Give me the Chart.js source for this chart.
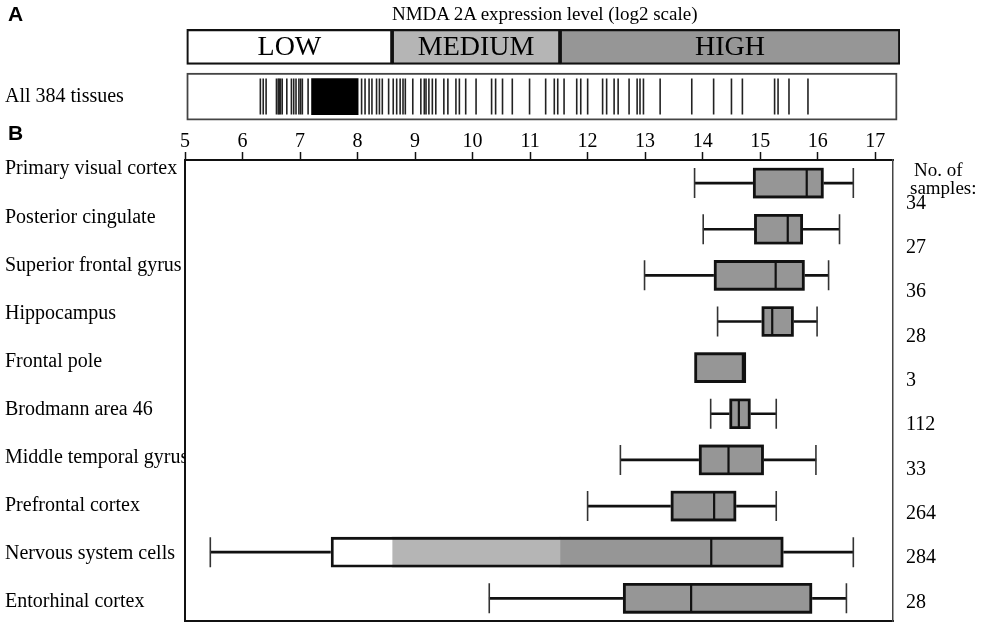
<!DOCTYPE html>
<html>
<head>
<meta charset="utf-8">
<title>NMDA 2A expression</title>
<script src="https://cdn.jsdelivr.net/npm/chart.js@4.4.0/dist/chart.umd.min.js"></script>
<style>
  html, body { margin: 0; padding: 0; background: #fff; overflow: hidden; }
  #wrap { position: relative; width: 981px; height: 636px; overflow: hidden; font-family: "Liberation Serif", "Times New Roman", serif; color: #000; }
  #chartA { position: absolute; left: 0; top: 0; }
  #chartB { position: absolute; left: 0; top: 125px; }
  .txt { position: absolute; white-space: nowrap; line-height: 1; }
  .panel { font-family: "Liberation Sans", Arial, sans-serif; font-weight: bold; font-size: 21px; }
</style>
</head>
<body>
<div id="wrap">
  <!-- Chart.js keeps ~19px under the plot area, so both canvases run a little taller -->
  <canvas id="chartA" width="981" height="141"></canvas>
  <canvas id="chartB" width="981" height="513"></canvas>
  <div class="txt panel" style="left:8px; top:3px;">A</div>
  <div class="txt panel" style="left:8px; top:122px;">B</div>
  <div class="txt" style="left:392px; top:4px; font-size:19px;">NMDA 2A expression level (log2 scale)</div>
  <div class="txt" style="left:914px; top:160px; font-size:19px;">No. of</div>
  <div class="txt" style="left:910px; top:178px; font-size:19px;">samples:</div>
</div>
<script>
// panel B: box plots per tissue
const tissues = [
  'Primary visual cortex', 'Posterior cingulate', 'Superior frontal gyrus', 'Hippocampus',
  'Frontal pole', 'Brodmann area 46', 'Middle temporal gyrus', 'Prefrontal cortex',
  'Nervous system cells', 'Entorhinal cortex'
];
const sampleCounts = ['34', '27', '36', '28', '3', '112', '33', '264', '284', '28'];
const whiskerLow  = [13.86, 14.01, 12.99, 14.26, null, 14.14, 12.57, 12.00, 5.44, 10.29];
const q1          = [14.88, 14.90, 14.20, 15.03, 13.86, 14.47, 13.94, 13.45, 7.54, 12.62];
const medians     = [15.81, 15.48, 15.27, 15.21, 14.70, 14.63, 14.45, 14.20, 14.15, 13.80];
const q3          = [16.10, 15.74, 15.77, 15.58, 14.75, 14.83, 15.06, 14.58, 15.40, 15.90];
const whiskerHigh = [16.62, 16.38, 16.19, 15.99, null, 15.28, 15.97, 15.28, 16.62, 16.50];
const xTicks = [5, 6, 7, 8, 9, 10, 11, 12, 13, 14, 15, 16, 17];

// panel A: expression levels and all tissues
const levelNames = ['LOW', 'MEDIUM', 'HIGH'];
const levelEdges = [5.03, 8.6, 11.52, 17.43];
const panelARows = ['levels', 'All 384 tissues'];
const tissueValues = [
  6.31, 6.36, 6.41, 6.59, 6.62, 6.64, 6.66, 6.69, 6.77, 6.85, 6.89, 6.93, 6.98, 7.01, 7.04, 7.14,
  8.07, 8.13, 8.20, 8.25, 8.33, 8.38, 8.43, 8.54, 8.62, 8.68, 8.74, 8.79, 8.83, 8.96,
  9.10, 9.16, 9.19, 9.24, 9.30, 9.36, 9.50, 9.57, 9.71, 9.77, 9.88, 10.06, 10.33, 10.40,
  10.52, 10.69, 10.99, 11.27, 11.42, 11.48, 11.59, 11.81, 11.88, 12.00, 12.26, 12.33,
  12.46, 12.53, 12.72, 12.86, 12.91, 12.97, 13.26, 13.81, 14.19, 14.50, 14.69, 15.25,
  15.31, 15.50, 15.83
];
const denseRange = [7.20, 8.01];
const stripRange = [5.03, 17.38];
const splitTissue = 'Nervous system cells';

const levelColors = ['#ffffff', '#b5b5b5', '#969696'];
const boxGray = '#969696';
const serif = '"Liberation Serif", "Times New Roman", serif';

Chart.defaults.font.family = serif;
Chart.defaults.color = '#000';
Chart.defaults.animation = false;

// vertical axes must not push the plot area in for half a label
const noEdgePad = s => { s.paddingTop = 0; s.paddingBottom = 0; };

// ---------- panel A ----------
const bandLabels = {
  id: 'bandLabels',
  afterDatasetsDraw(chart) {
    const ctx = chart.ctx;
    ctx.save();
    ctx.font = '28px ' + serif;
    ctx.fillStyle = '#000';
    ctx.textAlign = 'center';
    ctx.textBaseline = 'middle';
    levelNames.forEach((name, k) => {
      const el = chart.getDatasetMeta(k).data[0];
      const p = el.getProps(['x', 'y', 'base'], true);
      ctx.fillText(name, (p.x + p.base) / 2, p.y + 1);
    });
    ctx.restore();
  }
};

const bandSets = levelNames.map((name, k) => ({
  type: 'bar',
  label: name,
  data: [{ y: panelARows[0], x: [levelEdges[k], levelEdges[k + 1]] }],
  backgroundColor: levelColors[k],
  borderColor: '#111',
  borderWidth: 2.2,
  borderSkipped: false,
  barThickness: 35,
  grouped: false,
  order: 5
}));

new Chart(document.getElementById('chartA'), {
  type: 'bar',
  data: {
    labels: panelARows,
    datasets: [
      ...bandSets,
      {
        type: 'bar',
        label: 'strip',
        data: [{ y: panelARows[1], x: stripRange }],
        backgroundColor: '#fff',
        borderColor: '#444',
        borderWidth: 2,
        borderSkipped: false,
        barThickness: 47,
        grouped: false,
        order: 6
      },
      {
        type: 'bar',
        label: 'dense',
        data: [{ y: panelARows[1], x: denseRange }],
        backgroundColor: '#000',
        borderWidth: 0,
        barThickness: 36,
        grouped: false,
        order: 2
      },
      {
        type: 'scatter',
        label: 'tissues',
        data: tissueValues.map(v => ({ x: v, y: panelARows[1] })),
        pointStyle: 'line',
        rotation: 90,
        radius: 18,
        borderColor: '#222',
        borderWidth: 1.6,
        order: 1
      }
    ]
  },
  options: {
    indexAxis: 'y',
    responsive: false,
    layout: { padding: { left: 5, right: 81, top: 22, bottom: 0 } },
    plugins: { legend: { display: false }, tooltip: { enabled: false } },
    scales: {
      x: {
        type: 'linear',
        min: 5,
        max: 17.43,
        afterFit: s => { s.height = 0; },
        grid: { display: false, drawTicks: false },
        border: { display: false },
        ticks: { display: false }
      },
      y: {
        type: 'category',
        offset: true,
        display: false
      },
      yLabels: {
        type: 'linear',
        axis: 'y',
        position: 'left',
        reverse: true,
        offset: false,
        min: -0.5,
        max: 1.5,
        afterBuildTicks: s => { s.ticks = [{ value: 1 }]; },
        afterFit: s => { s.width = 180; noEdgePad(s); },
        grid: { display: false, drawTicks: false },
        border: { display: false },
        ticks: {
          crossAlign: 'far', font: { size: 20 }, color: '#000',
          callback: v => panelARows[v]
        }
      }
    }
  },
  plugins: [bandLabels]
});

// ---------- panel B ----------
const boxRanges = tissues.map((t, i) => [q1[i], q3[i]]);

const segmentSets = levelNames.map((name, k) => ({
  type: 'bar',
  label: name,
  data: tissues.map((t, i) => t === splitTissue
    ? [Math.max(q1[i], levelEdges[k]), Math.min(q3[i], levelEdges[k + 1])]
    : null),
  backgroundColor: levelColors[k],
  borderWidth: 0,
  barThickness: 30,
  grouped: false,
  order: 3
}));

const capPoints = [];
tissues.forEach((t, i) => {
  if (whiskerLow[i] != null) capPoints.push({ x: whiskerLow[i], y: t });
  if (whiskerHigh[i] != null) capPoints.push({ x: whiskerHigh[i], y: t });
});

const rowTicks = s => { s.ticks = tissues.map((t, i) => ({ value: i })); };

new Chart(document.getElementById('chartB'), {
  type: 'bar',
  data: {
    labels: tissues,
    datasets: [
      {
        type: 'bar',
        label: 'whisker',
        data: tissues.map((t, i) => whiskerLow[i] == null ? null : [whiskerLow[i], whiskerHigh[i]]),
        backgroundColor: '#111',
        borderWidth: 0,
        barThickness: 2,
        grouped: false,
        order: 6
      },
      {
        type: 'bar',
        label: 'box fill',
        data: boxRanges,
        backgroundColor: tissues.map(t => t === splitTissue ? 'rgba(0,0,0,0)' : boxGray),
        borderWidth: 0,
        barThickness: 30,
        grouped: false,
        order: 5
      },
      ...segmentSets,
      {
        type: 'bar',
        label: 'box outline',
        data: boxRanges,
        backgroundColor: 'rgba(0,0,0,0)',
        borderColor: '#111',
        borderWidth: 2.2,
        borderSkipped: false,
        barThickness: 30,
        grouped: false,
        order: 2
      },
      {
        type: 'scatter',
        label: 'median',
        data: tissues.map((t, i) => ({ x: medians[i], y: t })),
        pointStyle: 'line',
        rotation: 90,
        radius: 14,
        borderColor: '#111',
        borderWidth: 2.2,
        order: 1
      },
      {
        type: 'scatter',
        label: 'caps',
        data: capPoints,
        pointStyle: 'line',
        rotation: 90,
        radius: 15,
        borderColor: '#333',
        borderWidth: 1.6,
        order: 1
      }
    ]
  },
  options: {
    indexAxis: 'y',
    responsive: false,
    layout: { padding: { left: 5, right: 0, top: 0, bottom: 0 } },
    plugins: { legend: { display: false }, tooltip: { enabled: false } },
    scales: {
      x: {
        type: 'linear',
        position: 'top',
        min: 5,
        max: 17.31,
        afterBuildTicks: s => { s.ticks = xTicks.map(v => ({ value: v })); },
        afterFit: s => { s.height = 35; },
        grid: { drawOnChartArea: false, drawTicks: true, tickLength: 8, tickColor: '#111', tickWidth: 1.5 },
        border: { display: true, color: '#111', width: 2 },
        ticks: { font: { size: 20 }, color: '#000', padding: -2, maxRotation: 0, autoSkip: false }
      },
      x2: {
        type: 'linear',
        position: 'bottom',
        min: 5,
        max: 17.31,
        afterFit: s => { s.height = 0; },
        grid: { display: false, drawTicks: false },
        border: { display: true, color: '#111', width: 2 },
        ticks: { display: false }
      },
      y: {
        type: 'category',
        offset: true,
        display: false
      },
      // row labels on the left, spread a little wider than the rows
      yLabels: {
        type: 'linear',
        axis: 'y',
        position: 'left',
        reverse: true,
        offset: false,
        min: -0.19,
        max: 9.4,
        afterBuildTicks: rowTicks,
        afterFit: s => { s.width = 180; noEdgePad(s); },
        grid: { display: false, drawTicks: false },
        border: { display: true, color: '#111', width: 2 },
        ticks: {
          crossAlign: 'far', font: { size: 20 }, color: '#000', autoSkip: false,
          callback: v => tissues[v]
        }
      },
      // sample counts on the right
      yCounts: {
        type: 'linear',
        axis: 'y',
        position: 'right',
        reverse: true,
        offset: false,
        min: -0.98,
        max: 9.43,
        afterBuildTicks: rowTicks,
        afterFit: s => { s.width = 88; noEdgePad(s); },
        grid: { display: false, drawTicks: false },
        border: { display: true, color: '#444', width: 1.5 },
        ticks: {
          crossAlign: 'near', font: { size: 20 }, color: '#000', padding: 13, autoSkip: false,
          callback: v => sampleCounts[v]
        }
      }
    }
  }
});
</script>
</body>
</html>
